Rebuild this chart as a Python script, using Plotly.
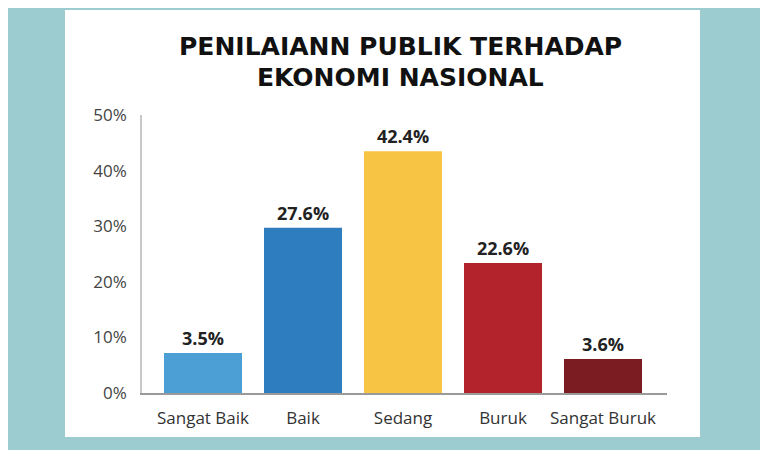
import plotly.graph_objects as go

categories = ["Sangat Baik", "Baik", "Sedang", "Buruk", "Sangat Buruk"]
bar_heights = [7.2, 29.7, 43.5, 23.4, 6.1]
bar_labels = ["3.5%", "27.6%", "42.4%", "22.6%", "3.6%"]
bar_colors = ["#4b9fd5", "#2e7ebf", "#f7c543", "#b3232b", "#7b1b22"]
y_ticks = [0, 10, 20, 30, 40, 50]
y_tick_labels = ["0%", "10%", "20%", "30%", "40%", "50%"]
title_lines = ["PENILAIANN PUBLIK TERHADAP", "EKONOMI NASIONAL"]

W, H = 768, 450
OFF = 8  # page body margin compensation
L, R, T, B = 142 - OFF, 667 - OFF, 115 - OFF, 393 - OFF

def px(x):
    return (x - OFF - L) / (R - L)

def py(y):
    return (B - (y - OFF)) / (B - T)

FONT = "Open Sans"
TITLE_FONT = "DejaVu Sans"

fig = go.Figure()
fig.add_trace(go.Bar(
    x=list(range(len(categories))),
    y=bar_heights,
    marker=dict(color=bar_colors, line=dict(width=0)),
    width=0.78,
    text=["<b>" + t + "</b>" for t in bar_labels],
    textposition="outside",
    textfont=dict(family=FONT, size=18, color="#222222"),
    cliponaxis=False,
    hoverinfo="skip",
))

fig.update_layout(
    width=W, height=H,
    margin=dict(l=L, r=W - R, t=T, b=H - B, pad=0),
    paper_bgcolor="#9ccbd0",
    plot_bgcolor="rgba(0,0,0,0)",
    showlegend=False,
    font=dict(family=FONT, color="#333333"),
    shapes=[dict(
        type="rect", xref="paper", yref="paper",
        x0=px(65), x1=px(700), y0=py(437), y1=py(10),
        fillcolor="#ffffff", line=dict(width=0), layer="below",
    )],
    annotations=[
        dict(text="<b>" + title_lines[0] + "</b>", xref="paper", yref="paper",
             x=px(400), y=py(46), showarrow=False, xanchor="center", yanchor="middle",
             font=dict(family=TITLE_FONT, size=25, color="#111111")),
        dict(text="<b>" + title_lines[1] + "</b>", xref="paper", yref="paper",
             x=px(400), y=py(78), showarrow=False, xanchor="center", yanchor="middle",
             font=dict(family=TITLE_FONT, size=25, color="#111111")),
    ],
)

fig.update_xaxes(
    range=[-0.61, 4.64],
    tickmode="array", tickvals=list(range(len(categories))), ticktext=categories,
    showgrid=False, zeroline=False,
    showline=True, linecolor="#9a9a9a", linewidth=1.5,
    ticks="", ticklabelstandoff=9,
    tickfont=dict(family=FONT, size=17, color="#333333"),
    fixedrange=True,
)
fig.update_yaxes(
    range=[0, 50],
    tickmode="array", tickvals=y_ticks, ticktext=y_tick_labels,
    showgrid=False, zeroline=False,
    showline=True, linecolor="#c8c8c8", linewidth=1.5,
    ticks="", ticklabelstandoff=10,
    tickfont=dict(family=FONT, size=17, color="#444444"),
    fixedrange=True,
)

fig.write_html("out.html")
